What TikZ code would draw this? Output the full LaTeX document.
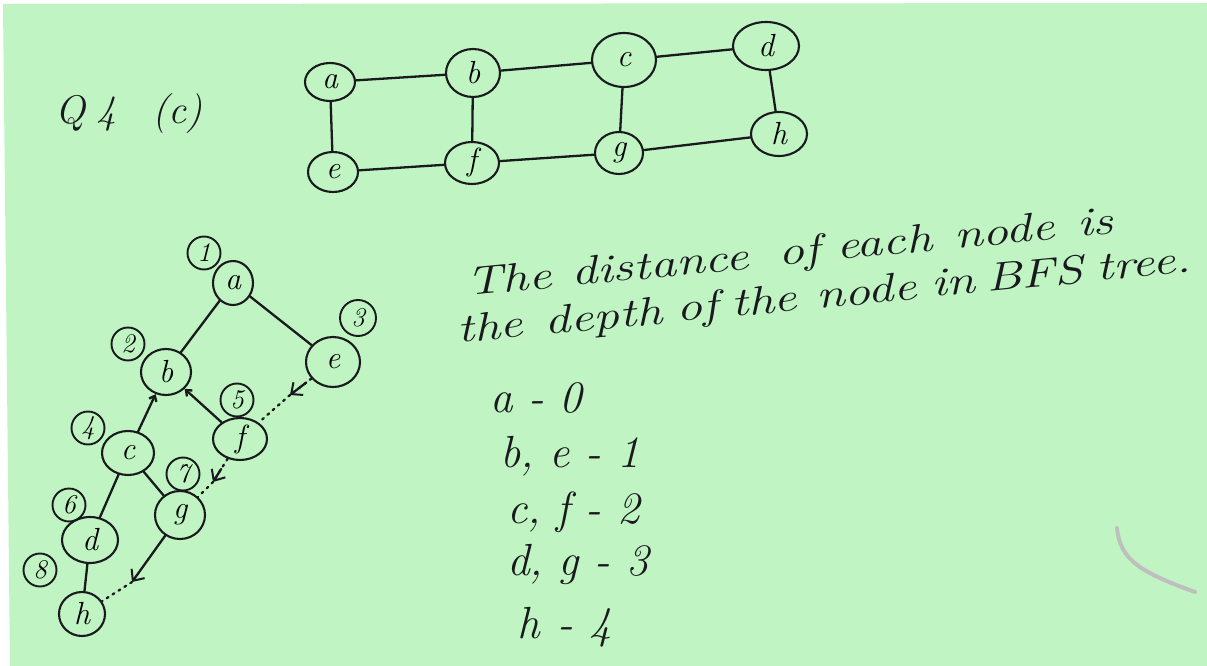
\documentclass[tikz,border=0pt]{standalone}
\usetikzlibrary{shapes.geometric,decorations.markings,arrows.meta,calc}
\definecolor{paper}{RGB}{192,245,195}
\definecolor{ink}{RGB}{25,25,30}
\newcommand{\handword}[1]{\scalebox{1.3}[1]{#1}}
\begin{document}
\begin{tikzpicture}[x=1pt,y=-1pt,
  pen/.style={line width=2.3pt, ink, line cap=round},
  vtx/.style={draw=ink, line width=2.1pt, ellipse, inner sep=0pt, font=\fontsize{32}{32}\selectfont\itshape},
  num/.style={draw=ink, circle, line width=1.9pt, minimum size=33pt, inner sep=0pt, font=\fontsize{27}{27}\selectfont\itshape},
  hand/.style={ink, anchor=base west, inner sep=0pt},
  slant/.style={hand, rotate=5.5},
  tip/.style={-{Straight Barb[length=9pt,width=16pt,line width=2pt]}},
  dotline/.style={pen, dash pattern=on 2pt off 5pt}
]
% paper
\fill[white] (0,0) rectangle (1207,666);
\fill[paper] (3,4) -- (1207,3) -- (1207,666) -- (10,666) -- cycle;
\useasboundingbox (0,0) rectangle (1207,666);
% smudge
\draw[black!25, line width=4pt, line cap=round] (1117,528) .. controls (1120,560) and (1140,572) .. (1195,592);

% title
\node[hand, font=\fontsize{40}{40}\selectfont\itshape] (q) at (55,124) {Q\;4\;\; (c)};

% ---- top graph ----
\node[vtx, minimum width=50pt, minimum height=38pt] (A) at (330,82) {a};
\node[vtx, minimum width=54pt, minimum height=48pt] (B) at (473,73) {b};
\node[vtx, minimum width=64pt, minimum height=54pt] (C) at (624,60) {c};
\node[vtx, minimum width=66pt, minimum height=48pt] (D) at (766,46) {d};
\node[vtx, minimum width=50pt, minimum height=40pt] (E) at (333,172) {e};
\node[vtx, minimum width=54pt, minimum height=42pt] (F) at (472,163) {f};
\node[vtx, minimum width=48pt, minimum height=42pt] (G) at (619,153) {g};
\node[vtx, minimum width=56pt, minimum height=44pt] (H) at (779,134) {h};
\draw[pen] (A) -- (B);
\draw[pen] (B) -- (C);
\draw[pen] (C) -- (D);
\draw[pen] (A) -- (E);
\draw[pen] (B) -- (F);
\draw[pen] (C) -- (G);
\draw[pen] (D) -- (H);
\draw[pen] (E) -- (F);
\draw[pen] (F) -- (G);
\draw[pen] (G) -- (H);

% ---- BFS tree ----
\node[vtx, minimum width=40pt, minimum height=44pt] (ta) at (233,283) {a};
\node[vtx, minimum width=54pt, minimum height=50pt] (te) at (333,362) {e};
\node[vtx, minimum width=50pt, minimum height=46pt] (tb) at (166,372) {b};
\node[vtx, minimum width=54pt, minimum height=42pt] (tf) at (240,439) {f};
\node[vtx, minimum width=52pt, minimum height=44pt] (tc) at (128,453) {c};
\node[vtx, minimum width=50pt, minimum height=48pt] (tg) at (180,515) {g};
\node[vtx, minimum width=56pt, minimum height=46pt] (td) at (90,540) {d};
\node[vtx, minimum width=46pt, minimum height=44pt] (th) at (82,614) {h};

\node[num] (n1) at (204,253) {1};
\node[num] (n2) at (128,344) {2};
\node[num, minimum size=36pt] (n3) at (358,318) {3};
\node[num] (n4) at (88,428) {4};
\node[num] (n5) at (237,400) {5};
\node[num] (n6) at (69,505) {6};
\node[num] (n7) at (183,474) {7};
\node[num] (n8) at (40,570) {8};

\draw[pen] (ta) -- (tb);
\draw[pen] (ta) -- (te);
\draw[pen, -{Straight Barb[length=5pt,width=8pt]}] (tc) -- (tb);
\draw[pen, -{Straight Barb[length=5pt,width=8pt]}] (tf) -- (tb);
\draw[pen] (tc) -- (td);
\draw[pen] (tc) -- (tg);
\draw[pen] (td) -- (th);
% non-tree edges
\coordinate (ef) at (290,395);
\coordinate (fg) at (213,482);
\coordinate (gh) at (132,582);
\draw[dotline] (te) -- (ef);
\draw[pen, tip] ($(te)!0.62!(ef)$) -- (ef);
\draw[dotline] (ef) -- (tf);
\draw[dotline] (tf) -- (fg);
\draw[pen, tip] ($(tf)!0.7!(fg)$) -- (fg);
\draw[dotline] (fg) -- (tg);
\draw[pen, tip] (tg) -- (gh);
\draw[dotline] (gh) -- (th);

% ---- text, written on a rising line ----
\begin{scope}[font=\fontsize{40}{40}\selectfont\itshape]
\node[slant] (w11) at (467,296) {\handword{The}};
\node[slant] (w12) at (572,286) {\handword{distance}};
\node[slant] (w13) at (779,266) {\handword{of}};
\node[slant] (w14) at (837,260) {\handword{each}};
\node[slant] (w15) at (955,249) {\handword{node}};
\node[slant] (w16) at (1078,237) {\handword{is}};
\node[slant] (w21) at (458,343) {\handword{the}};
\node[slant] (w22) at (545,335) {\handword{depth}};
\node[slant] (w23) at (677,322) {\handword{of}};
\node[slant] (w24) at (732,317) {\handword{the}};
\node[slant] (w25) at (817,309) {\handword{node}};
\node[slant] (w26) at (932,297) {\handword{in}};
\node[slant] (w27) at (987,292) {\handword{BFS}};
\node[slant] (w28) at (1097,281) {\handword{tree.}};
\end{scope}
\begin{scope}[font=\fontsize{45}{45}\selectfont\itshape]
\node[hand] (l0) at (490,412) {a - 0};
\node[hand] (l1) at (500,467) {b, e - 1};
\node[hand] (l2) at (507,523) {c, f - 2};
\node[hand] (l3) at (507,575) {d, g - 3};
\node[hand] (l4) at (517,638) {h\hspace{18pt}- 4};
\end{scope}
\end{tikzpicture}
\end{document}
